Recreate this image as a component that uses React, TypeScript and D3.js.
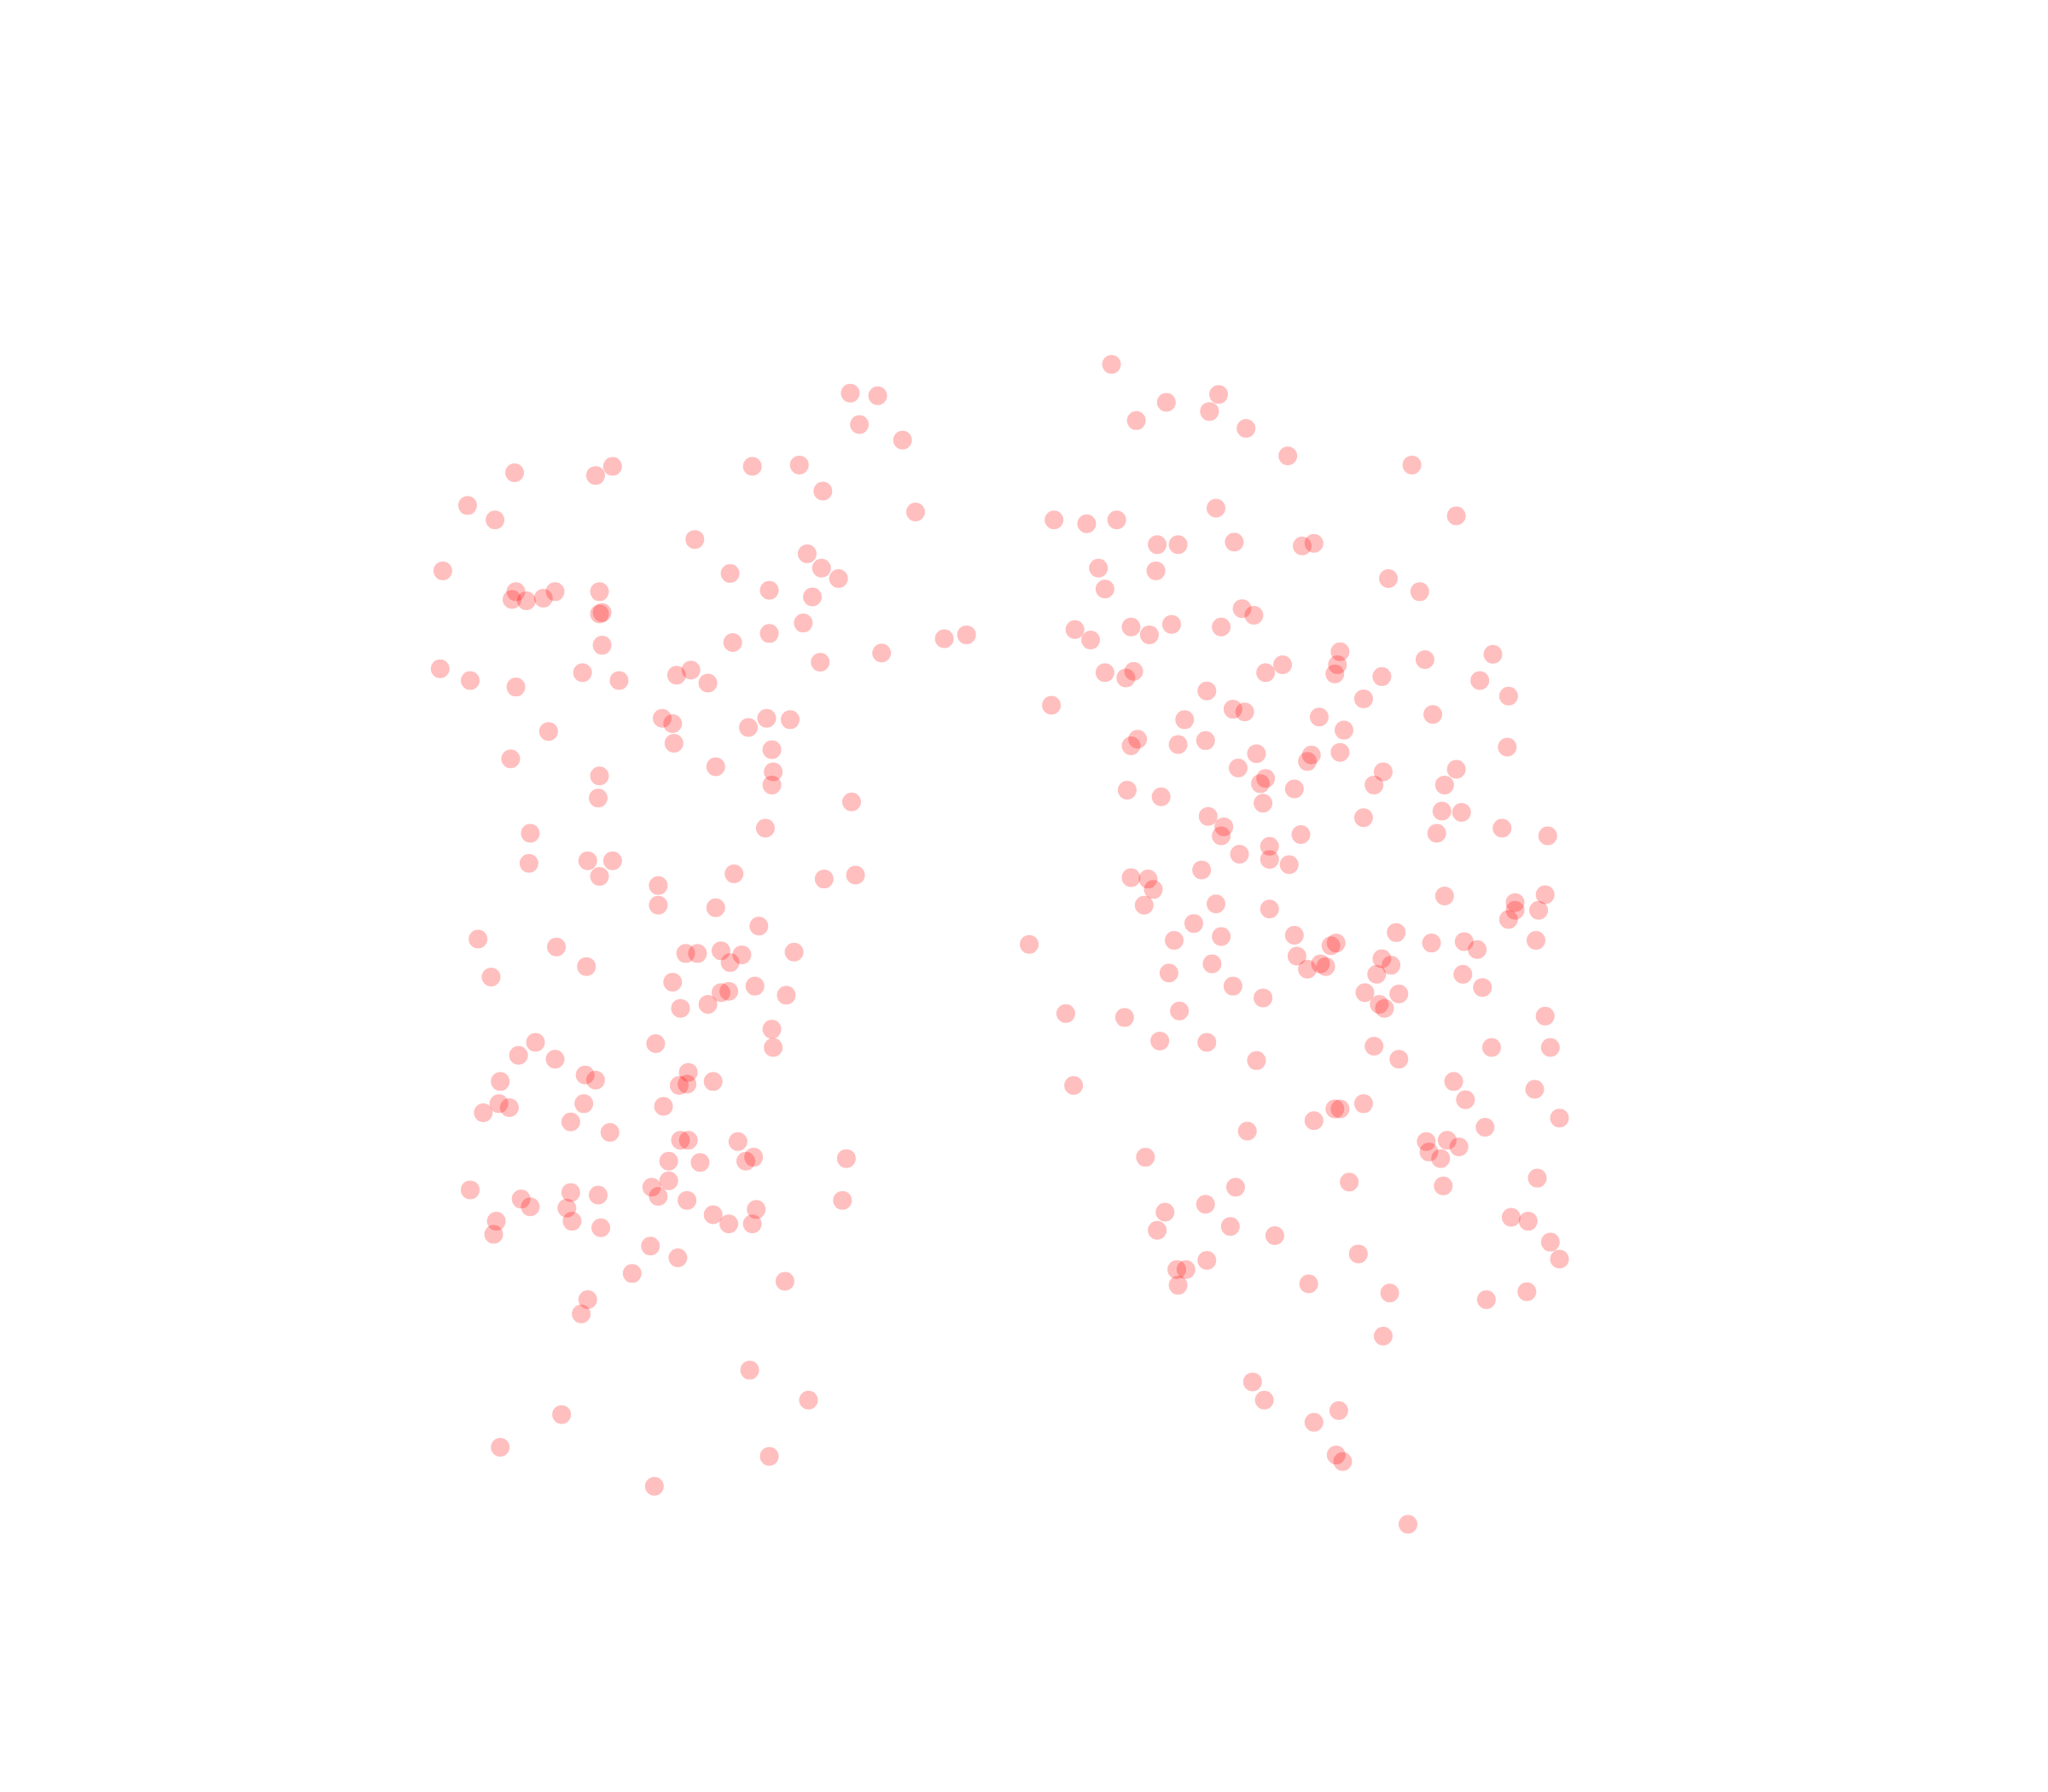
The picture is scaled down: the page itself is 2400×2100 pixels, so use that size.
import { scaleLinear } from 'd3'

// readings, in its own units (0..1568 across, 0..1372 down)
const leftX = [
  651, 672, 658, 691, 394, 456, 469, 576, 612, 630, 358, 379, 701, 532, 618, 339, 629, 559, 642,
  395, 392, 403, 416, 425, 459, 589, 622, 459, 461, 615, 589, 561, 461, 723, 740, 675, 628,
  337, 360, 395, 446, 474, 518, 529, 542, 507, 515, 587, 605, 573, 420, 516, 591, 391, 548,
  592, 459, 591, 458, 652, 586, 406, 405, 450, 469, 459, 562, 631, 655, 504, 504, 548, 581,
  366, 426, 525, 534, 552, 568, 559, 608, 449, 376, 515, 552, 558, 578, 602, 542, 521, 591,
  410, 397, 425, 502, 592, 448, 456, 383, 527, 520, 526, 546, 447, 382, 390, 370, 508, 437,
  467, 521, 527, 565, 512, 536, 571, 577, 648, 360, 437, 458, 499, 504, 512, 399, 406, 434,
  526, 645, 579, 546, 380, 438, 378, 460, 558, 576, 498, 519, 484, 601, 450, 445, 574, 619,
  430, 383, 589, 501,
]
const leftY = [
  301, 303, 325, 337, 362, 364, 357, 357, 356, 376, 387, 398, 392, 413, 424, 437, 435, 439, 443,
  453, 459, 460, 458, 453, 453, 452, 457, 470, 469, 477, 485, 492, 494, 489, 486, 500, 507,
  512, 521, 526, 515, 521, 517, 513, 523, 550, 554, 550, 551, 557, 560, 569, 574, 581, 587,
  591, 594, 601, 611, 614, 634, 638, 661, 659, 659, 671, 669, 673, 670, 678, 693, 695, 709,
  719, 725, 730, 730, 728, 731, 737, 729, 740, 748, 752, 760, 759, 755, 762, 769, 772, 788,
  798, 808, 811, 799, 802, 823, 827, 828, 821, 831, 830, 828, 845, 845, 848, 852, 847, 859,
  867, 873, 873, 874, 889, 890, 889, 886, 887, 911, 913, 915, 909, 916, 904, 918, 924, 925,
  919, 919, 926, 930, 935, 935, 945, 940, 937, 937, 954, 963, 975, 981, 995, 1006, 1049, 1072,
  1083, 1108, 1115, 1138,
]

const rightX = [
  851, 893, 933, 870, 926, 954, 986, 1081, 1115, 931, 807, 832, 855, 886, 902, 945, 997, 1006,
  841, 885, 1063, 846, 1087, 951, 960, 866, 880, 897, 935, 823, 835, 1026, 1091, 1143, 1024,
  1022, 969, 982, 846, 862, 868, 1058, 1133, 1155, 924, 1044, 805, 944, 953, 907, 1010, 1097,
  1029, 871, 866, 902, 923, 962, 1026, 1004, 1001, 1154, 948, 969, 965, 1059, 1115, 1052, 1106,
  991, 863, 889, 967, 1104, 1119, 1044, 925, 937, 935, 996, 1150, 1100, 1185, 949, 972, 972,
  987, 920, 866, 879, 883, 876, 931, 972, 1106, 1160, 1183, 1160, 1178, 1155, 914, 1069, 788,
  899, 935, 991, 1019, 1023, 1096, 1121, 1131, 1176, 993, 928, 1011, 1001, 1015, 1058, 1065,
  1054, 895, 1120, 944, 1135, 1045, 1071, 967, 1056, 1060, 903, 816, 861, 1183, 888, 924, 1052,
  1142, 1187, 962, 1071, 1113, 822, 1175, 1122, 1044, 1022, 1026, 1006, 1137, 1194, 955, 1092,
  1108, 1117, 1094, 1103, 877, 1033, 946, 1105, 1177, 923, 892, 1157, 1170, 886, 942, 976, 1187,
  1194, 1040, 924, 901, 908, 902, 1002, 1064, 1169, 1138, 1059, 959, 968, 1025, 1006, 1023, 1028,
  1078,
]
const rightY = [
  279, 308, 302, 322, 315, 328, 349, 356, 395, 389, 398, 401, 398, 417, 417, 415, 418, 416,
  435, 437, 443, 451, 453, 466, 471, 480, 486, 478, 480, 482, 490, 499, 505, 501, 509,
  516, 515, 509, 515, 519, 514, 518, 521, 533, 529, 535, 540, 543, 545, 551, 549, 547,
  559, 566, 571, 570, 567, 577, 576, 578, 583, 572, 588, 596, 600, 591, 589, 601, 601,
  604, 605, 610, 615, 621, 622, 626, 625, 633, 640, 639, 634, 638, 640, 654, 648, 658,
  662, 666, 672, 673, 681, 693, 692, 696, 686, 691, 685, 697, 697, 704, 707, 714, 723,
  720, 717, 716, 724, 722, 722, 721, 727, 720, 732, 738, 738, 742, 740, 734, 739,
  746, 745, 746, 755, 756, 760, 761, 764, 769, 772, 774, 776, 779, 778, 797, 798, 801,
  802, 802, 812, 811, 828, 831, 834, 842, 845, 849, 849, 858, 863, 856, 866, 874,
  873, 878, 882, 887, 886, 905, 909, 908, 902, 922, 928, 932, 935, 942, 939, 946, 951,
  964, 960, 965, 972, 972, 984, 983, 990, 989, 995, 1023, 1058, 1072, 1080, 1089, 1114, 1119,
  1167,
]

const width = 2400
const height = 2100
const radius = 11

function App() {
  const xScale = scaleLinear().domain([0, 1568]).range([0, width])
  const yScale = scaleLinear().domain([0, 1372]).range([0, height])

  const points = [
    ...leftX.map((x, i) => ({ key: `l${i}`, x, y: leftY[i] })),
    ...rightX.map((x, i) => ({ key: `r${i}`, x, y: rightY[i] })),
  ]

  return (
    <svg
      width={width}
      height={height}
      viewBox={`0 0 ${width} ${height}`}
      style={{ position: 'absolute', left: 0, top: 0, background: '#fff' }}
    >
      {points.map((point) => (
        <circle
          key={point.key}
          cx={xScale(point.x)}
          cy={yScale(point.y)}
          r={radius}
          fill="#ff0000"
          fillOpacity={0.25}
        />
      ))}
    </svg>
  )
}

export default App
